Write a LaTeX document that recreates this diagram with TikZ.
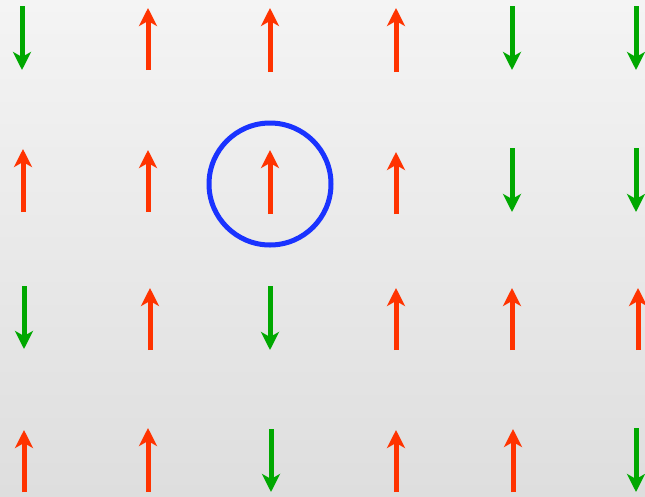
\documentclass[tikz,border=0pt]{standalone}
\usetikzlibrary{arrows.meta}
\definecolor{spinred}{HTML}{FF3300}
\definecolor{spingreen}{HTML}{00A800}
\definecolor{ringblue}{HTML}{1A33FF}
\definecolor{bgtop}{HTML}{F4F4F4}
\definecolor{bgbottom}{HTML}{DEDEDE}
\begin{document}
\begin{tikzpicture}[x=1pt,y=-1pt,
  spin/.style={line width=5pt,-{Stealth[length=18pt,width=18pt,inset=5pt]}},
  glow/.style={line width=8pt,white,opacity=0.5,line cap=round}]
\shade[top color=bgtop,bottom color=bgbottom] (0,0) rectangle (645,496);
\useasboundingbox (0,0) rectangle (645,496);
% red (up) spins: x / bottom / tip
\foreach \x/\a/\b in {148/70/8,270/72/8,396/72/8,
                      23/212/149,148/212/150,270/214/150,396/214/152,
                      150/350/288,396/350/288,512/350/288,638/350/288,
                      24/492/430,148/492/428,396/492/430,513/492/429}{
  \coordinate (s) at (\x,\a);
  \coordinate (t) at (\x,\b);
  \draw[spin,spinred] (s) -- (t);
}
% green (down) spins: x / top / tip
\foreach \x/\a/\b in {22/6/70,512/6/70,636/6/70,
                      512/148/212,636/148/212,
                      24/286/349,270/286/350,
                      271/429/492,636/428/492}{
  \coordinate (s) at (\x,\a);
  \coordinate (t) at (\x,\b);
  \draw[spin,spingreen] (s) -- (t);
}
\coordinate (c) at (270,184);
\draw[ringblue,line width=5pt] (c) circle[radius=61pt];
\end{tikzpicture}
\end{document}
